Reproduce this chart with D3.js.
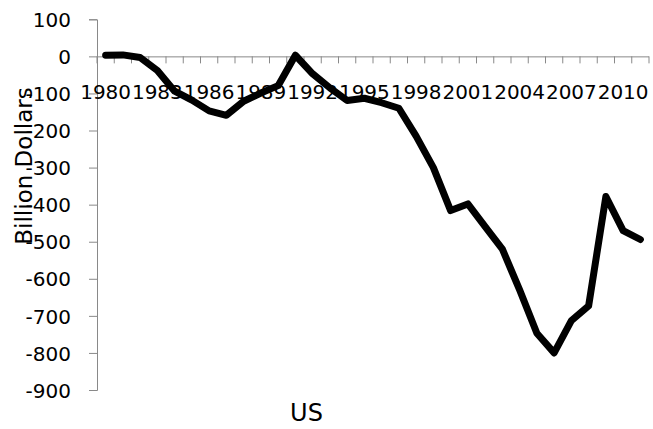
<!DOCTYPE html>
<html>
<head>
<meta charset="utf-8">
<script src="https://cdn.jsdelivr.net/npm/d3@7"></script>
<style>
  body { margin: 0; background: #fff; }
  text { font-family: "DejaVu Sans", sans-serif; fill: #000; }
</style>
</head>
<body>
<div id="chart"></div>
<script>
// data: US current account balance, billion dollars
var years = d3.range(1980, 2012).map(String);
var balance = [3, 4, -3, -38, -94, -118, -147, -159, -121, -99,
               -79, 3, -47, -85, -119, -113, -125, -140, -215, -300,
               -416, -398, -459, -520, -630, -747, -800, -713, -673, -378,
               -470, -494];
var yTicks = [100, 0, -100, -200, -300, -400, -500, -600, -700, -800, -900];
var xLabels = ["1980", "1983", "1986", "1989", "1992", "1995", "1998", "2001", "2004", "2007", "2010"];

var data = years.map(function(d, i) { return {year: d, value: balance[i]}; });

var width = 653, height = 429;

var svg = d3.select("#chart")
  .append("svg")
    .attr("width", width)
    .attr("height", height);

var x = d3.scaleBand()
  .domain(years)
  .range([97, 649]);

var y = d3.scaleLinear()
  .domain([-900, 100])
  .range([390, 19.3]);

var axisColor = "#898989";

// Y axis
var yAxis = svg.append("g")
  .attr("transform", "translate(97,0)")
  .call(d3.axisLeft(y).tickValues(yTicks).tickSize(8).tickPadding(18)
    .tickFormat(function(d) { return String(d).replace("\u2212", "-"); }));
yAxis.select(".domain").attr("stroke", axisColor);
yAxis.selectAll(".tick line").attr("stroke", axisColor);
yAxis.selectAll(".tick text")
  .attr("font-size", 20)
  .attr("font-family", "DejaVu Sans")
  .attr("fill", "#000")
  .attr("dy", "0.36em");

// X axis at zero
var xAxis = svg.append("g")
  .attr("transform", "translate(0," + y(0) + ")")
  .call(d3.axisBottom(x).tickValues(xLabels).tickSize(0).tickPadding(28));
xAxis.select(".domain").attr("stroke", axisColor).attr("d", "M97,0.5H649");
xAxis.selectAll(".tick text")
  .attr("font-size", 20)
  .attr("font-family", "DejaVu Sans")
  .attr("fill", "#000")
  .attr("dy", "0.71em");

// tick marks between categories
var bounds = years.map(function(d) { return x(d); }).concat([x.range()[1]]);
xAxis.selectAll(".bound")
  .data(bounds)
  .enter()
  .append("line")
    .attr("class", "bound")
    .attr("x1", function(d) { return d; })
    .attr("x2", function(d) { return d; })
    .attr("y1", 0)
    .attr("y2", 7)
    .attr("stroke", axisColor);

// line
var line = d3.line()
  .x(function(d) { return x(d.year) + x.bandwidth() / 2; })
  .y(function(d) { return y(d.value); });

svg.append("path")
  .datum(data)
  .attr("d", line)
  .attr("fill", "none")
  .attr("stroke", "#000")
  .attr("stroke-width", 7)
  .attr("stroke-linejoin", "round")
  .attr("stroke-linecap", "round");

// y label
svg.append("text")
  .attr("transform", "translate(32,166) rotate(-90)")
  .attr("text-anchor", "middle")
  .attr("font-size", 23)
  .text("Billion Dollars");

// title
svg.append("text")
  .attr("x", 306.5)
  .attr("y", 420.5)
  .attr("text-anchor", "middle")
  .attr("font-size", 24)
  .text("US");
</script>
</body>
</html>
